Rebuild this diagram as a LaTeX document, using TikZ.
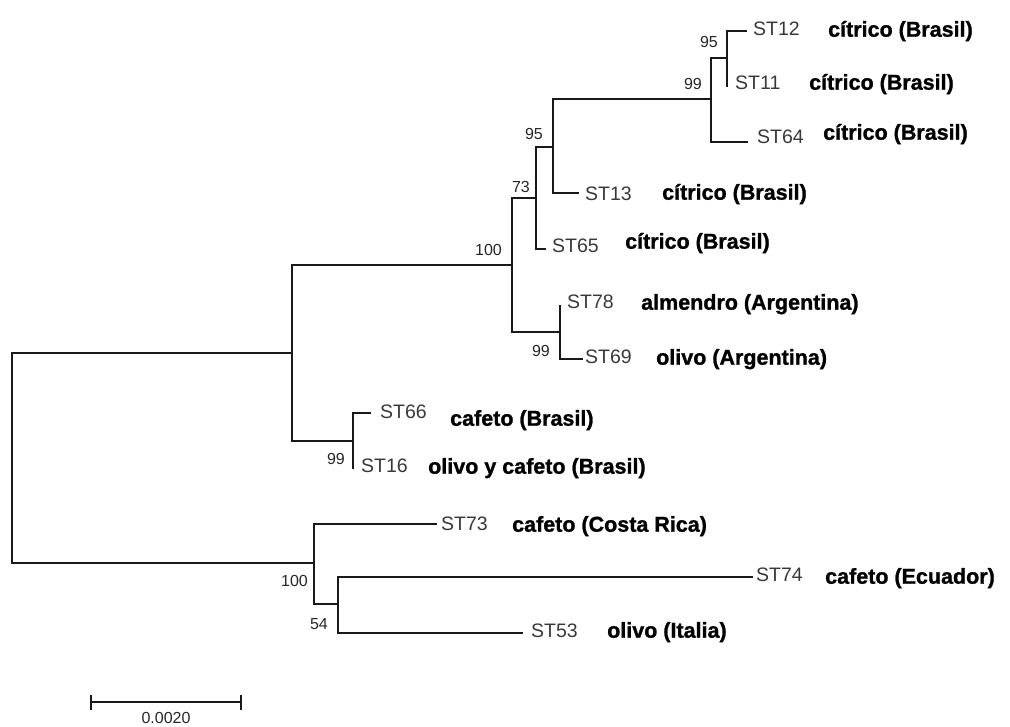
\documentclass[tikz,border=0pt]{standalone}
\usepackage{fontspec}
\setmainfont{Liberation Sans}
\newfontfamily\hostfont[FakeBold=1.2]{Liberation Sans Bold}
\begin{document}
\begin{tikzpicture}[x=1pt,y=-1pt,
  br/.style={line width=1.4pt, draw=black!90},
  leaf/.style={anchor=west, inner sep=0pt, font=\fontsize{19.5}{19.5}\selectfont, text=black!78, text height=14pt, text depth=0pt},
  host/.style={anchor=west, inner sep=0pt, font=\fontsize{21.5}{21.5}\hostfont, text=black, text height=15.4pt, text depth=0pt},
  boot/.style={anchor=east, inner sep=0pt, font=\fontsize{16}{16}\selectfont, text=black!85, text height=11.5pt, text depth=0pt}]
\useasboundingbox (0,0) rectangle (1010,727);
% internal nodes
\coordinate (R) at (12,458);
\coordinate (A) at (292,353);
\coordinate (I) at (314,563);
\coordinate (B) at (512,265);
\coordinate (H) at (353,441);
\coordinate (C) at (536,198);
\coordinate (G) at (560,332);
\coordinate (D) at (553,147);
\coordinate (E) at (711,99);
\coordinate (F) at (727,58);
\coordinate (J) at (338,604);
% tips
\coordinate (t12) at (747,31);
\coordinate (t11) at (727,87);
\coordinate (t64) at (748,142);
\coordinate (t13) at (579,193);
\coordinate (t65) at (546,249);
\coordinate (t78) at (560,305);
\coordinate (t69) at (583,359);
\coordinate (t66) at (371,413);
\coordinate (t16) at (353,469);
\coordinate (t73) at (437,524);
\coordinate (t74) at (753,577);
\coordinate (t53) at (523,633);
% branches
\draw[br] (R) |- (A);
\draw[br] (R) |- (I);
\draw[br] (A) |- (B);
\draw[br] (A) |- (H);
\draw[br] (B) |- (C);
\draw[br] (B) |- (G);
\draw[br] (C) |- (D);
\draw[br] (C) |- (t65);
\draw[br] (D) |- (E);
\draw[br] (D) |- (t13);
\draw[br] (E) |- (F);
\draw[br] (E) |- (t64);
\draw[br] (F) |- (t12);
\draw[br] (F) |- (t11);
\draw[br] (G) |- (t78);
\draw[br] (G) |- (t69);
\draw[br] (H) |- (t66);
\draw[br] (H) |- (t16);
\draw[br] (I) |- (t73);
\draw[br] (I) |- (J);
\draw[br] (J) |- (t74);
\draw[br] (J) |- (t53);
% leaf labels
\node[leaf] (l12) at (753,29) {ST12};
\node[leaf] (l11) at (735,83) {ST11};
\node[leaf] (l64) at (757,137) {ST64};
\node[leaf] (l13) at (585,194) {ST13};
\node[leaf] (l65) at (552,246) {ST65};
\node[leaf] (l78) at (567,302) {ST78};
\node[leaf] (l69) at (585,357) {ST69};
\node[leaf] (l66) at (380,412) {ST66};
\node[leaf] (l16) at (361,465) {ST16};
\node[leaf] (l73) at (441,523) {ST73};
\node[leaf] (l74) at (756,574) {ST74};
\node[leaf] (l53) at (531,630) {ST53};
% host labels
\node[host] (h12) at (828,29) {cítrico (Brasil)};
\node[host] (h11) at (809,82) {cítrico (Brasil)};
\node[host] (h64) at (823,132) {cítrico (Brasil)};
\node[host] (h13) at (662,192) {cítrico (Brasil)};
\node[host] (h65) at (625,241) {cítrico (Brasil)};
\node[host] (h78) at (641,302) {almendro (Argentina)};
\node[host] (h69) at (656,357) {olivo (Argentina)};
\node[host] (h66) at (450,418) {cafeto (Brasil)};
\node[host] (h16) at (428,466) {olivo y cafeto (Brasil)};
\node[host] (h73) at (512,524) {cafeto (Costa Rica)};
\node[host] (h74) at (825,576) {cafeto (Ecuador)};
\node[host] (h53) at (607,630) {olivo (Italia)};
% bootstrap values
\node[boot] (bF) at (718,42) {95};
\node[boot] (bE) at (702,84) {99};
\node[boot] (bD) at (543,134) {95};
\node[boot] (bC) at (530,187) {73};
\node[boot] (bB) at (502,250) {100};
\node[boot] (bG) at (550,351) {99};
\node[boot] (bH) at (345,459) {99};
\node[boot] (bI) at (308,581) {100};
\node[boot] (bJ) at (328,624) {54};
% scale bar
\coordinate (s1) at (91,702);
\coordinate (s2) at (241,702);
\coordinate (s1a) at (91,695);
\coordinate (s1b) at (91,710);
\coordinate (s2a) at (241,695);
\coordinate (s2b) at (241,710);
\draw[br] (s1) -- (s2);
\draw[br] (s1a) -- (s1b);
\draw[br] (s2a) -- (s2b);
\node[inner sep=0pt, font=\fontsize{16}{16}\selectfont, text=black!85, text height=11.5pt, text depth=0pt] (sl) at (166,718) {0.0020};
\end{tikzpicture}
\end{document}
